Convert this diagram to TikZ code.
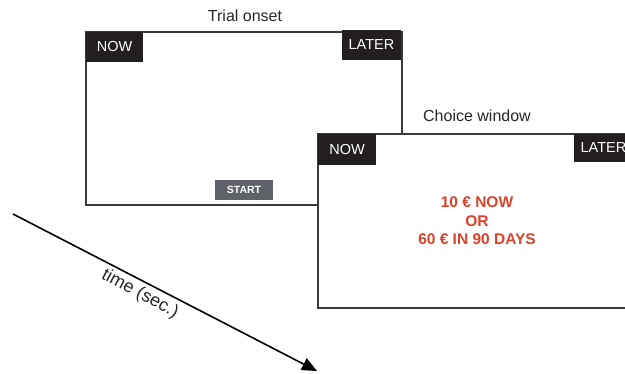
\documentclass[tikz,border=0pt]{standalone}
\usepackage{fontspec}
\setmainfont{Liberation Sans}
\usetikzlibrary{arrows.meta}
\definecolor{frame}{HTML}{3A3A3A}
\definecolor{tagbg}{HTML}{231F20}
\definecolor{startbg}{HTML}{5E6268}
\definecolor{offer}{HTML}{D9432B}
\tikzset{
  screen/.style={draw=frame, line width=1.1pt, fill=white},
  tag/.style={fill=tagbg, text=white, inner sep=0pt, font=\fontsize{14.5}{16}\selectfont},
  startbtn/.style={fill=startbg, text=white, inner sep=0pt, font=\bfseries\fontsize{10.5}{12}\selectfont},
  caption/.style={font=\fontsize{16}{19}\selectfont, text=black!85},
}
\begin{document}
\begin{tikzpicture}[x=1pt,y=-1pt]
\useasboundingbox (0,0) rectangle (625,373);
\clip (0,0) rectangle (625,373);
% first screen
\draw[screen] (86,32) rectangle (402,205);
\node[tag, minimum width=57pt, minimum height=30pt] (now1) at (114.5,47) {NOW};
\node[tag, minimum width=59pt, minimum height=30pt] (later1) at (371.5,45) {LATER};
\node[startbtn, minimum width=58pt, minimum height=20pt] (start) at (244,190) {START};
\node[caption] (trial) at (245,16) {Trial onset};
% second screen
\draw[screen] (318,134) rectangle (640,308);
\node[tag, minimum width=58pt, minimum height=31pt] (now2) at (347,149.5) {NOW};
\node[tag, minimum width=59pt, minimum height=28pt] (later2) at (603.5,148) {LATER};
\node[caption] (choice) at (477,116) {Choice window};
\node[text=offer, align=center, font=\bfseries\fontsize{15.5}{18.5}\selectfont] (offer) at (477,221) {10 € NOW\\OR\\60 € IN 90 DAYS};
% time arrow
\coordinate (t0) at (13,214);
\coordinate (t1) at (317,371);
\draw[line width=1.6pt, -{Triangle[length=15pt,width=13pt]}] (t0) -- (t1);
\node[caption, rotate=-28, font=\fontsize{18}{21}\selectfont] (time) at (140,294) {time (sec.)};
\end{tikzpicture}
\end{document}
